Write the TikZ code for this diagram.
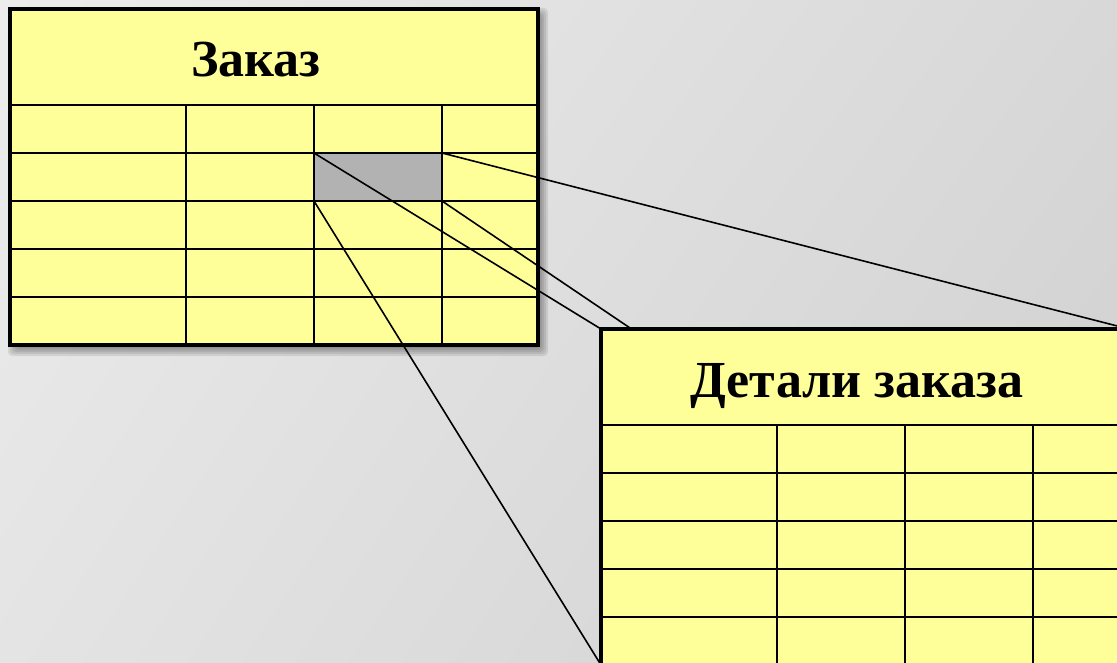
\documentclass[tikz,border=0pt]{standalone}
\usepackage{fontspec}
\setmainfont{Liberation Serif}
\usetikzlibrary{positioning,shadings}
\definecolor{tablefill}{HTML}{FFFF99}
\definecolor{cellgray}{HTML}{B2B2B2}
\definecolor{slideUL}{HTML}{ECECEC}
\definecolor{slideUR}{HTML}{D8D8D8}
\definecolor{slideLL}{HTML}{E4E4E4}
\definecolor{slideLR}{HTML}{CFCFCF}
\pgfdeclarelayer{back}
\pgfdeclarelayer{links}
\pgfsetlayers{back,links,main}
\tikzset{
    table box/.style = {
        draw,
        line width = 2.5pt,
        fill = tablefill,
        minimum width = 396pt,
        minimum height = 252pt,
        inner sep = 0pt,
        outer sep = 0pt,
        anchor = north west,
        },
    soft shadow/.style = {
        fill = black,
        opacity = 0.085,
        rounded corners = 3pt,
        },
    hot cell/.style = {
        fill = cellgray,
        minimum width = 96pt,
        minimum height = 36pt,
        inner sep = 0pt,
        outer sep = 0pt,
        anchor = north west,
        },
    grid line/.style = {
        line width = 1.7pt,
        },
    title/.style = {
        font = \bfseries\fontsize{39}{47}\selectfont,
        anchor = base,
        inner sep = 0pt,
        },
    link/.style = {
        line width = 1.2pt,
        },
}
\newcommand{\tableshadow}{%
    \foreach \e in {6,4,...,-4}
        \fill[soft shadow] (4-\e,5-\e) rectangle (532+\e,341+\e);
}
\newcommand{\tablelines}{%
    \foreach \y in {96,144,192,240,288}
        \draw[grid line] (0,\y) -- (528,\y);
    \foreach \x in {176,304,432}
        \draw[grid line] (\x,96) -- (\x,336);
}

\begin{document}
\begin{tikzpicture}[x=0.75pt, y=-0.75pt]
    \useasboundingbox (0,0) rectangle (1117,663);
    \begin{pgfonlayer}{back}
        \shade[upper left=slideUL, upper right=slideUR, lower left=slideLL, lower right=slideLR] (0,0) rectangle (1117,663);
        % Заказ
        \begin{scope}[shift={(10,9)}]
            \tableshadow
            \node[table box] (order) at (0,0) {};
            \node[hot cell] (cell) at (304,144) {};
            \tablelines
            \node[title] (ordertitle) at (246,68) {Заказ};
        \end{scope}
    \end{pgfonlayer}

    \clip (0,0) rectangle (1117,663);
    % Детали заказа
    \begin{scope}[shift={(601,329)}]
        \tableshadow
        \node[table box] (details) at (0,0) {};
        \tablelines
        \node[title] (detailstitle) at (256,68) {Детали заказа};
    \end{scope}

    \begin{pgfonlayer}{links}
        \begin{scope}
            \clip (0,0) rectangle (1117,663);
            \draw[link] (cell.north west) -- (details.north west);
            \draw[link] (cell.north east) -- (details.north east);
            \draw[link] (cell.south west) -- (details.south west);
            \draw[link] (cell.south east) -- (details.south east);
        \end{scope}
    \end{pgfonlayer}
\end{tikzpicture}
\end{document}
